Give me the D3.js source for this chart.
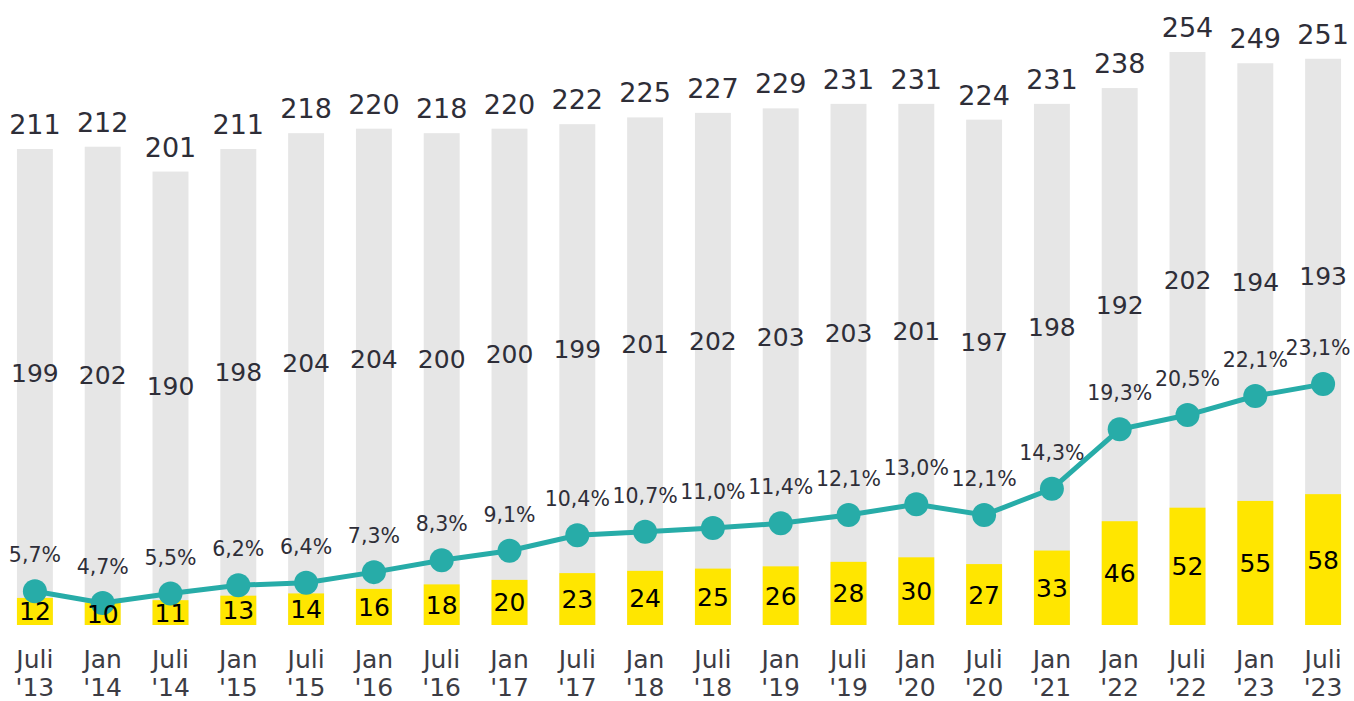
<!DOCTYPE html>
<html><head><meta charset="utf-8">
<script src="https://cdn.jsdelivr.net/npm/d3@7"></script>
<style>body{margin:0;background:#fff;overflow:hidden}text{font-family:"DejaVu Sans",Verdana,sans-serif}</style>
</head><body><svg id="c" width="1354" height="701"></svg>
<script>
const periods = ["Juli","Jan","Juli","Jan","Juli","Jan","Juli","Jan","Juli","Jan","Juli","Jan","Juli","Jan","Juli","Jan","Jan","Juli","Jan","Juli"];
const years = ["'13","'14","'14","'15","'15","'16","'16","'17","'17","'18","'18","'19","'19","'20","'20","'21","'22","'22","'23","'23"];
const yellowVals = [12,10,11,13,14,16,18,20,23,24,25,26,28,30,27,33,46,52,55,58];
const greyVals = [199,202,190,198,204,204,200,200,199,201,202,203,203,201,197,198,192,202,194,193];
const pctVals = [5.7,4.7,5.5,6.2,6.4,7.3,8.3,9.1,10.4,10.7,11.0,11.4,12.1,13.0,12.1,14.3,19.3,20.5,22.1,23.1];

const svg = d3.select("#c");
const idx = d3.range(periods.length);
const x = d3.scaleBand().domain(idx).range([1,1357]).paddingInner(0.47).paddingOuter(0.235);
const base = 625;
const y = d3.scaleLinear().domain([0,260]).range([base, base-260*2.256]);
const yp = d3.scaleLinear().domain([0,25]).range([659, 659-25*11.9]);

const data = idx.map(i => ({i, yel: yellowVals[i], grey: greyVals[i], total: yellowVals[i]+greyVals[i], pct: pctVals[i]}));
const fmt = v => v.toFixed(1).replace(".", ",") + "%";

svg.append("g").selectAll("rect").data(data).join("rect")
  .attr("x", d => x(d.i)).attr("width", x.bandwidth())
  .attr("y", d => y(d.total)).attr("height", d => y(0) - y(d.total))
  .attr("fill", "#e6e6e6");
svg.append("g").selectAll("rect").data(data).join("rect")
  .attr("x", d => x(d.i)).attr("width", x.bandwidth())
  .attr("y", d => y(d.yel)).attr("height", d => y(0) - y(d.yel))
  .attr("fill", "#ffe600");

const cx = d => x(d.i) + x.bandwidth()/2;

svg.append("g").selectAll("text").data(data).join("text")
  .attr("x", cx).attr("y", d => y(d.total) - 15)
  .attr("text-anchor","middle").attr("font-size",27).attr("fill","#2e2e38")
  .text(d => d.total);
svg.append("g").selectAll("text").data(data).join("text")
  .attr("x", cx).attr("y", d => (y(d.total)+y(d.yel))/2 + 9)
  .attr("text-anchor","middle").attr("font-size",25).attr("fill","#2e2e38")
  .text(d => d.grey);

const line = d3.line().x(cx).y(d => yp(d.pct));
svg.append("path").datum(data).attr("d", line)
  .attr("fill","none").attr("stroke","#27aca8").attr("stroke-width",5);
svg.append("g").selectAll("circle").data(data).join("circle")
  .attr("cx", cx).attr("cy", d => yp(d.pct)).attr("r", 12).attr("fill","#27aca8");
svg.append("g").selectAll("text").data(data).join("text")
  .attr("x", d => Math.min(cx(d), 1318)).attr("y", d => yp(d.pct) - 29)
  .attr("text-anchor","middle").attr("font-size",20.5).attr("fill","#2e2e38")
  .text(d => fmt(d.pct));

svg.append("g").selectAll("text").data(data).join("text")
  .attr("x", cx).attr("y", d => (y(d.yel)+y(0))/2 + 9)
  .attr("text-anchor","middle").attr("font-size",25).attr("fill","#000")
  .text(d => d.yel);

const xl = svg.append("g").selectAll("text").data(data).join("text")
  .attr("text-anchor","middle").attr("font-size",25).attr("fill","#3c3c44");
xl.append("tspan").attr("x", cx).attr("y", 668).text(d => periods[d.i]);
xl.append("tspan").attr("x", cx).attr("y", 696).text(d => years[d.i]);
</script></body></html>
